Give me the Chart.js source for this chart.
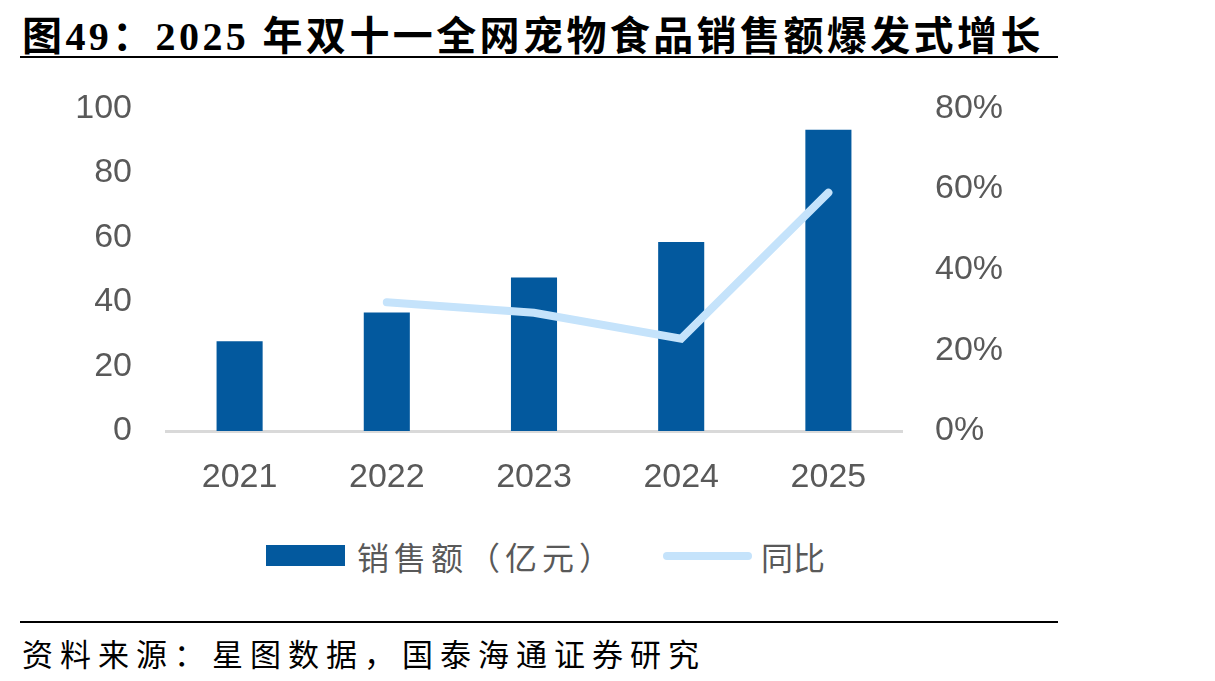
<!DOCTYPE html>
<html>
<head>
<meta charset="utf-8">
<script src="https://cdn.jsdelivr.net/npm/chart.js@4.4.1/dist/chart.umd.min.js"></script>
<style>
  html, body { margin: 0; padding: 0; background: #fff; }
  body { width: 1215px; height: 681px; position: relative; overflow: hidden; }
  .title {
    position: absolute; left: 22px; top: 4px; white-space: nowrap;
    font: bold 40px "Liberation Serif", "Noto Sans CJK SC", serif; color: #000;
    letter-spacing: 3.4px;
  }
  .rule { position: absolute; left: 20px; width: 1038px; height: 2px; background: #000; }
  .foot {
    position: absolute; left: 22px; top: 630px; white-space: nowrap;
    font: 31px "Noto Sans CJK SC", sans-serif; color: #000; letter-spacing: 7px;
  }
  .box { position: absolute; left: 0; top: 54px; width: 1060px; height: 466px; }
  .leg { position: absolute; font: 32px "Noto Sans CJK SC", sans-serif; color: #595959; white-space: nowrap; }
</style>
</head>
<body>
<div class="title">图49：2025 年双十一全网宠物食品销售额爆发式增长</div>
<div class="rule" style="top:56px"></div>
<div class="box"><canvas id="chart"></canvas></div>

<!-- legend -->
<div style="position:absolute;left:266px;top:545px;width:79px;height:21px;background:#03599E"></div>
<div class="leg" style="left:357px;top:533px;letter-spacing:5px">销售额（亿元）</div>
<div style="position:absolute;left:663px;top:552px;width:89px;height:8px;border-radius:4px;background:#C5E3FB"></div>
<div class="leg" style="left:761px;top:533px">同比</div>

<div class="rule" style="top:621px"></div>
<div class="foot">资料来源：星图数据，国泰海通证券研究</div>

<script>
// data
const years = ['2021', '2022', '2023', '2024', '2025'];
const sales = [27.8, 36.7, 47.6, 58.6, 93.4];        // 亿元
const yoy   = [null, 31.9, 29.3, 22.9, 59.1];        // %
const leftTicks  = [0, 20, 40, 60, 80, 100];
const rightTicks = [0, 20, 40, 60, 80];

const BOX_LEFT = 0, BOX_W = 1060;
const PLOT_L = 166, PLOT_R = 902;   // plot area in page px
const tickFont = { family: '"Liberation Sans", Arial, sans-serif', size: 34 };
const tickColor = '#595959';

const ctx = document.getElementById('chart').getContext('2d');
new Chart(ctx, {
  data: {
    labels: years,
    datasets: [
      {
        type: 'line', label: '同比', data: yoy, yAxisID: 'y2',
        borderColor: '#C5E3FB', borderWidth: 8, borderCapStyle: 'round',
        borderJoinStyle: 'miter', pointRadius: 0, tension: 0, order: 0
      },
      {
        type: 'bar', label: '销售额（亿元）', data: sales, yAxisID: 'y',
        backgroundColor: '#03599E', barPercentage: 0.313, categoryPercentage: 1, order: 1
      }
    ]
  },
  options: {
    responsive: true,
    maintainAspectRatio: false,
    animation: false,
    layout: { padding: { top: 1, left: 0, right: 0, bottom: 0 } },
    plugins: { legend: { display: false }, tooltip: { enabled: false } },
    scales: {
      x: {
        grid: { display: false, drawTicks: false },
        border: { color: '#D9D9D9', width: 3 },
        ticks: { font: tickFont, color: tickColor, padding: 26, maxRotation: 0 },
        afterFit(s) { s.height = 89; }
      },
      y: {
        position: 'left', min: 0, max: 100,
        afterBuildTicks(s) { s.ticks = leftTicks.map(v => ({ value: v })); },
        grid: { display: false, drawTicks: false },
        border: { display: false },
        ticks: { font: tickFont, color: tickColor, padding: 34 },
        afterFit(s) { s.width = PLOT_L - BOX_LEFT; }
      },
      y2: {
        position: 'right', min: 0, max: 80,
        afterBuildTicks(s) { s.ticks = rightTicks.map(v => ({ value: v })); },
        grid: { display: false, drawTicks: false },
        border: { display: false },
        ticks: { font: tickFont, color: tickColor, padding: 33, callback: v => v + '%' },
        afterFit(s) { s.width = BOX_LEFT + BOX_W - PLOT_R; }
      }
    }
  }
});
</script>
</body>
</html>
